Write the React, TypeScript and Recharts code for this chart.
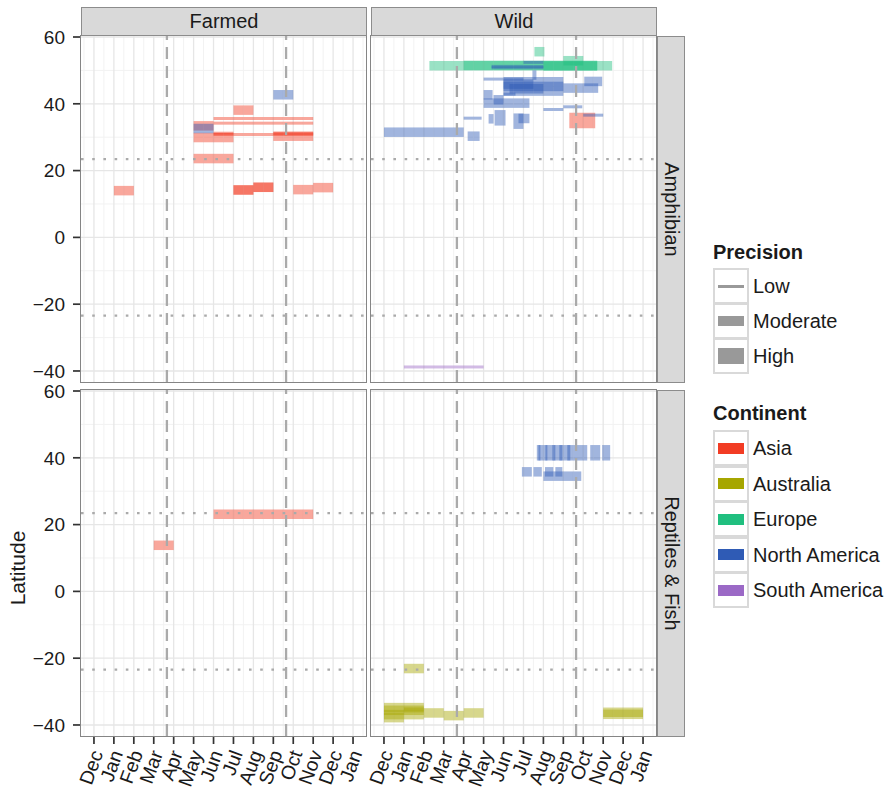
import { ComposedChart, XAxis, YAxis, ReferenceLine } from 'recharts';

const monthTicks = [0, 1, 2, 3, 4, 5, 6, 7, 8, 9, 10, 11, 12, 13];
const monthLabels = ['Dec', 'Jan', 'Feb', 'Mar', 'Apr', 'May', 'Jun', 'Jul', 'Aug', 'Sep', 'Oct', 'Nov', 'Dec', 'Jan'];
const monthMinor = [-0.5, 0.5, 1.5, 2.5, 3.5, 4.5, 5.5, 6.5, 7.5, 8.5, 9.5, 10.5, 11.5, 12.5, 13.5];
const latTicks = [-40, -20, 0, 20, 40, 60];
const latMinor = [-30, -10, 10, 30, 50];
const equinoxes = [3.66, 9.64];
const tropics = [23.44, -23.44];

const continents = ['Asia', 'Australia', 'Europe', 'North America', 'South America'];
const continentCodes = ['AS', 'AU', 'EU', 'NA', 'SA'];
const precisions = ['Low', 'Moderate', 'High'];
const precisionCodes = ['L', 'M', 'H'];

// [continent, precision, latitude, start month, end month]
type Rec = [string, string, number, number, number];

const farmedAmphibian: Rec[] = [
  ['AS', 'M', 14, 1, 2],
  ['AS', 'M', 23.6, 5, 7],
  ['AS', 'M', 29.9, 5, 7],
  ['AS', 'M', 33.4, 5, 6],
  ['NA', 'M', 32.6, 5, 6],
  ['AS', 'L', 35.6, 6, 11],
  ['AS', 'L', 34.2, 6, 11],
  ['AS', 'L', 30.8, 6, 11],
  ['AS', 'L', 31.2, 6, 7],
  ['AS', 'M', 30.3, 9, 11],
  ['AS', 'L', 31.1, 9, 11],
  ['AS', 'M', 38.1, 7, 8],
  ['NA', 'M', 42.7, 9, 10],
  ['AS', 'M', 14.2, 7, 8],
  ['AS', 'M', 14.2, 7, 8],
  ['AS', 'M', 15, 8, 9],
  ['AS', 'M', 15, 8, 9],
  ['AS', 'M', 14.3, 10, 11],
  ['AS', 'M', 14.9, 11, 12],
];

const farmedReptiles: Rec[] = [
  ['AS', 'M', 13.8, 3, 4],
  ['AS', 'M', 23.1, 6, 11],
];

const wildAmphibian: Rec[] = [
  ['EU', 'M', 51.4, 2.28, 11.45],
  ['EU', 'M', 51.5, 4, 10.7],
  ['EU', 'M', 51.3, 8, 10.7],
  ['EU', 'M', 55.6, 7.55, 8.05],
  ['EU', 'M', 52.9, 9, 10],
  ['AS', 'H', 35, 9.3, 10.6],
  ['NA', 'L', 50.8, 5.4, 8],
  ['NA', 'L', 51.2, 5.4, 8],
  ['NA', 'L', 52.4, 7, 8],
  ['NA', 'L', 47.4, 5, 7],
  ['NA', 'M', 48.6, 7.45, 7.65],
  ['NA', 'M', 46.6, 6, 9],
  ['NA', 'M', 45.2, 6, 9],
  ['NA', 'M', 43.8, 6, 9],
  ['NA', 'M', 45.9, 6, 7.5],
  ['NA', 'M', 44.5, 6.3, 8],
  ['NA', 'L', 42.9, 6, 6.6],
  ['NA', 'M', 44.7, 9, 10.75],
  ['NA', 'M', 46.7, 10.05, 10.95],
  ['NA', 'M', 42.7, 5, 5.45],
  ['NA', 'M', 40.2, 5, 7.3],
  ['NA', 'M', 41.2, 5.5, 6],
  ['NA', 'L', 38.3, 8, 9],
  ['NA', 'L', 39.1, 9, 9.95],
  ['NA', 'L', 36.6, 10, 11],
  ['NA', 'L', 35.7, 4, 4.9],
  ['NA', 'M', 35.5, 5.25, 5.5],
  ['NA', 'H', 35.8, 5.55, 6.1],
  ['NA', 'H', 34.8, 6.5, 7],
  ['NA', 'M', 35.6, 6.75, 7.3],
  ['NA', 'M', 31.5, 0, 4],
  ['NA', 'M', 30.3, 4.2, 4.8],
  ['SA', 'L', -38.8, 1, 5],
];

const wildReptiles: Rec[] = [
  ['NA', 'H', 41.5, 7.67, 10.2],
  ['NA', 'H', 41.5, 7.75, 7.85],
  ['NA', 'H', 41.5, 8.1, 8.2],
  ['NA', 'H', 41.5, 8.45, 8.6],
  ['NA', 'H', 41.5, 8.8, 8.95],
  ['NA', 'H', 41.5, 9.2, 9.35],
  ['NA', 'H', 41.5, 10.35, 10.85],
  ['NA', 'H', 41.5, 10.95, 11.35],
  ['NA', 'M', 35.8, 6.92, 7.42],
  ['NA', 'M', 35.8, 7.5, 7.92],
  ['NA', 'M', 35.8, 8.08, 8.5],
  ['NA', 'M', 35.8, 8.6, 8.95],
  ['NA', 'M', 34.5, 8, 9.9],
  ['AU', 'M', -23.1, 1, 2],
  ['AU', 'M', -34.8, 0, 2],
  ['AU', 'M', -35.6, 0, 2],
  ['AU', 'M', -36.9, 0, 2],
  ['AU', 'M', -37.8, 0, 1],
  ['AU', 'L', -35.2, 1, 2],
  ['AU', 'M', -36.4, 2, 3],
  ['AU', 'M', -37.2, 3, 4],
  ['AU', 'M', -36.4, 4, 5],
  ['AU', 'M', -36.2, 11, 13],
  ['AU', 'M', -36.8, 11, 13],
];

const colors: Record<string, string> = {
  AS: '#F23C24',
  AU: '#A6A600',
  EU: '#20BF7F',
  NA: '#2F5BB5',
  SA: '#9B69C6',
};
const widths: Record<string, number> = { L: 3, M: 9.5, H: 15.5 };

const FONT = '"Liberation Sans", Arial, Helvetica, sans-serif';
const PW = 285;
const PH = 346;
const MT = 14; // padding round each chart so tick labels are not clipped
const ML = 30;

// split a range into half-month pieces
function pieces(start: number, end: number) {
  const out: [number, number][] = [];
  let a = start;
  while (a < end - 1e-6) {
    const b = Math.min(end, Math.floor(a * 2 + 1e-6) / 2 + 0.5);
    out.push([a, b]);
    a = b;
  }
  return out;
}

const fmtLat = (v: number) => (v < 0 ? '\u2212' + Math.abs(v) : String(v));

const MonthTick = (props: any) => {
  const { x, y, payload } = props;
  const ax = x + 3;
  const ay = y + 5;
  return (
    <text
      x={ax}
      y={ay}
      dy='0.35em'
      transform={`rotate(-70 ${ax} ${ay})`}
      textAnchor='end'
      fontSize={19.5}
      fontFamily={FONT}
      fill='#1a1a1a'>
      {monthLabels[payload.value]}
    </text>
  );
};

function Panel({ recs, left, top, showX, showY }: { recs: Rec[]; left: number; top: number; showX: boolean; showY: boolean }) {
  const yw = showY ? 81 : 0;
  const xh = showX ? 62 : 0;
  return (
    <div style={{ position: 'absolute', left: left - yw - ML, top: top - MT }}>
      <ComposedChart width={PW + yw + ML + 10} height={PH + xh + MT} margin={{ top: MT, right: 10, bottom: 0, left: ML }}>
        <XAxis
          type='number'
          dataKey='x'
          domain={[-0.65, 13.65]}
          allowDataOverflow
          ticks={monthTicks}
          interval={0}
          hide={!showX}
          height={xh}
          axisLine={false}
          tickSize={8}
          tickLine={{ stroke: '#333', strokeWidth: 1.7 }}
          tick={<MonthTick />}
        />
        <YAxis
          type='number'
          dataKey='y'
          domain={[-43.3, 60.3]}
          allowDataOverflow
          ticks={latTicks}
          interval={0}
          hide={!showY}
          width={yw}
          axisLine={false}
          tickSize={8}
          tickMargin={8}
          tickLine={{ stroke: '#333', strokeWidth: 1.7 }}
          tickFormatter={fmtLat}
          tick={{ fontSize: 19, fill: '#1a1a1a', fontFamily: FONT }}
        />
        {monthMinor.map((m) => (
          <ReferenceLine key={'mx' + m} x={m} stroke='#F2F2F2' strokeWidth={1} />
        ))}
        {latMinor.map((l) => (
          <ReferenceLine key={'my' + l} y={l} stroke='#F2F2F2' strokeWidth={1} />
        ))}
        {monthTicks.map((m) => (
          <ReferenceLine key={'gx' + m} x={m} stroke='#E6E6E6' strokeWidth={1.3} />
        ))}
        {latTicks.map((l) => (
          <ReferenceLine key={'gy' + l} y={l} stroke='#E6E6E6' strokeWidth={1.3} />
        ))}
        {recs.flatMap((r, i) =>
          pieces(r[3], r[4]).map(([a, b], j) => (
            <ReferenceLine
              key={'s' + i + '_' + j}
              segment={[
                { x: a, y: r[2] },
                { x: b, y: r[2] },
              ]}
              stroke={colors[r[0]]}
              strokeOpacity={0.45}
              strokeWidth={widths[r[1]]}
              ifOverflow='visible'
            />
          ))
        )}
        {equinoxes.map((m) => (
          <ReferenceLine key={'eq' + m} x={m} stroke='#AAAAAA' strokeWidth={2.3} strokeDasharray='12 7' />
        ))}
        {tropics.map((l) => (
          <ReferenceLine key={'tr' + l} y={l} stroke='#AAAAAA' strokeWidth={2.4} strokeDasharray='2.6 8.6' />
        ))}
      </ComposedChart>
      <div
        style={{
          position: 'absolute',
          left: ML + yw - 1,
          top: MT - 1,
          width: PW,
          height: PH,
          border: '1.8px solid #858585',
          boxSizing: 'content-box',
          pointerEvents: 'none',
        }}
      />
    </div>
  );
}

const stripStyle: React.CSSProperties = {
  position: 'absolute',
  background: '#D9D9D9',
  border: '1px solid #8C8C8C',
  boxSizing: 'border-box',
  display: 'flex',
  alignItems: 'center',
  justifyContent: 'center',
  fontFamily: FONT,
  fontSize: 20,
  color: '#1a1a1a',
};

function LegendKey({ top, color, w, label }: { top: number; color: string; w: number; label: string }) {
  return (
    <>
      <div
        style={{
          position: 'absolute',
          left: 713,
          top,
          width: 36,
          height: 36,
          border: '2px solid #D9D9D9',
          boxSizing: 'border-box',
          background: '#fff',
        }}>
        <div style={{ position: 'absolute', left: 3, right: 3, top: 16 - w / 2, height: w, background: color }} />
      </div>
      <div
        style={{
          position: 'absolute',
          left: 753,
          top: top + 6,
          fontFamily: FONT,
          fontSize: 20,
          lineHeight: '24px',
          color: '#1a1a1a',
          whiteSpace: 'nowrap',
        }}>
        {label}
      </div>
    </>
  );
}

export default function App() {
  return (
    <div style={{ position: 'absolute', left: 0, top: 0, width: 895, height: 795, background: '#fff', overflow: 'hidden' }}>
      <Panel recs={farmedAmphibian} left={81} top={36} showX={false} showY={true} />
      <Panel recs={wildAmphibian} left={371} top={36} showX={false} showY={false} />
      <Panel recs={farmedReptiles} left={81} top={390} showX={true} showY={true} />
      <Panel recs={wildReptiles} left={371} top={390} showX={true} showY={false} />

      <div style={{ ...stripStyle, left: 81, top: 7, width: PW + 1, height: 29 }}>Farmed</div>
      <div style={{ ...stripStyle, left: 371, top: 7, width: PW + 1, height: 29 }}>Wild</div>
      <div style={{ ...stripStyle, left: 657, top: 36, width: 28, height: PH + 1 }}>
        <span style={{ transform: 'rotate(90deg)', whiteSpace: 'nowrap' }}>Amphibian</span>
      </div>
      <div style={{ ...stripStyle, left: 657, top: 390, width: 28, height: PH + 1 }}>
        <span style={{ transform: 'rotate(90deg)', whiteSpace: 'nowrap' }}>Reptiles &amp; Fish</span>
      </div>

      <div
        style={{
          position: 'absolute',
          left: 18,
          top: 568,
          transform: 'translate(-50%, -50%) rotate(-90deg)',
          fontFamily: FONT,
          fontSize: 21,
          color: '#1a1a1a',
          whiteSpace: 'nowrap',
        }}>
        Latitude
      </div>

      <div style={{ position: 'absolute', left: 713, top: 240, fontFamily: FONT, fontSize: 20, fontWeight: 'bold', lineHeight: '24px', color: '#1a1a1a' }}>
        Precision
      </div>
      {precisions.map((p, i) => (
        <LegendKey key={p} top={268 + i * 35} color='#999999' w={widths[precisionCodes[i]]} label={p} />
      ))}
      <div style={{ position: 'absolute', left: 713, top: 401, fontFamily: FONT, fontSize: 20, fontWeight: 'bold', lineHeight: '24px', color: '#1a1a1a' }}>
        Continent
      </div>
      {continents.map((c, i) => (
        <LegendKey key={c} top={430 + i * 35.5} color={colors[continentCodes[i]]} w={11} label={c} />
      ))}
    </div>
  );
}
